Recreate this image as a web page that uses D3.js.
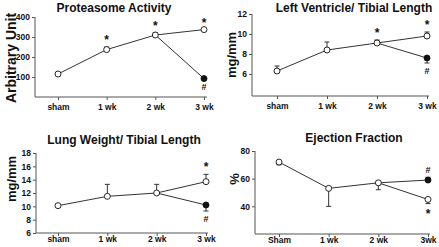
<!DOCTYPE html>
<html>
<head>
<meta charset="utf-8">
<script src="https://cdn.jsdelivr.net/npm/d3@7"></script>
<style>
  body { margin: 0; background: #fff; }
  svg { font-family: "Liberation Sans", Arial, sans-serif; font-weight: bold; }
</style>
</head>
<body>
<div id="chart"></div>
<script>
// ---- data ----
const weeks = ['sham', '1 wk', '2 wk', '3 wk'];
const weeksEF = ['Sham', '1 wk', '2 wk', '3wk'];

// Proteasome Activity
const protOpen = [115, 237, 310, 337];
const protOpenErr = [115, 250, 322, 337];
const protFilled = 92;
const protFilledErr = 92;
const protStars = [1, 2, 3];

// Left Ventricle / Tibial Length
const lvOpen = [6.3, 8.4, 9.1, 9.8];
const lvOpenErr = [6.8, 9.2, 9.4, 10.2];
const lvFilled = 7.6;
const lvFilledErr = 7.1;
const lvStars = [2, 3];

// Lung Weight / Tibial Length
const lungOpen = [10.1, 11.5, 12.0, 13.7];
const lungOpenErr = [10.1, 13.3, 13.3, 14.8];
const lungFilled = 10.2;
const lungFilledErr = 9.3;
const lungStars = [3];

// Ejection Fraction
const efOpen = [72, 53, 57, 45];
const efOpenErr = [70, 40, 52, 42];
const efFilled = 59;
const efFilledErr = 61;
const efStars = [3];

const panels = [
  { title: 'Proteasome Activity', ylabel: 'Arbitrary Unit', cats: weeks,
    open: protOpen, openErr: protOpenErr, filled: protFilled, filledErr: protFilledErr,
    stars: protStars, domain: [0, 400], ticks: [100, 200, 300, 400],
    left: 35, right: 207, top: 17, bottom: 97, xr: [58, 204], xlabY: 7,
    titleX: 114, titleY: 12, ylabX: 16, ylabY: 58, ylabSize: 14,
    starBelow: false, hashBelow: true },
  { title: 'Left Ventricle/ Tibial Length', ylabel: 'mg/mm', cats: weeks,
    open: lvOpen, openErr: lvOpenErr, filled: lvFilled, filledErr: lvFilledErr,
    stars: lvStars, domain: [3.8, 12], ticks: [6, 8, 10, 12],
    left: 252, right: 429, top: 14, bottom: 96, xr: [277, 427], xlabY: 7,
    titleX: 354, titleY: 12, ylabX: 236, ylabY: 55, ylabSize: 13,
    starBelow: false, hashBelow: true },
  { title: 'Lung Weight/ Tibial Length', ylabel: 'mg/mm', cats: weeks,
    open: lungOpen, openErr: lungOpenErr, filled: lungFilled, filledErr: lungFilledErr,
    stars: lungStars, domain: [6, 18], ticks: [6, 8, 10, 12, 14, 16, 18],
    left: 36, right: 208, top: 153, bottom: 233, xr: [58, 206], xlabY: 3,
    titleX: 124, titleY: 144, ylabX: 16, ylabY: 179, ylabSize: 13,
    starBelow: false, hashBelow: true },
  { title: 'Ejection Fraction', ylabel: '%', cats: weeksEF,
    open: efOpen, openErr: efOpenErr, filled: efFilled, filledErr: efFilledErr,
    stars: efStars, domain: [20, 80], ticks: [40, 60, 80],
    left: 255, right: 430, top: 151, bottom: 234, xr: [279, 428], xlabY: 3,
    titleX: 354, titleY: 142, ylabX: 239, ylabY: 179, ylabSize: 13,
    starBelow: true, hashBelow: false }
];

const svg = d3.select('#chart').append('svg')
  .attr('width', 439).attr('height', 247);

const ink = '#111';
const lineCol = '#333';

function drawPanel(p) {
  const g = svg.append('g');
  const x = d3.scalePoint().domain(p.cats).range(p.xr);
  const y = d3.scaleLinear().domain(p.domain).range([p.bottom, p.top]);

  // axes
  const yAxis = g.append('g').attr('transform', `translate(${p.left},0)`)
    .call(d3.axisLeft(y).tickValues(p.ticks).tickSize(3).tickSizeOuter(0));
  yAxis.select('.domain').attr('d', `M0,${p.top}V${p.bottom}`);
  const xAxis = g.append('g').attr('transform', `translate(0,${p.bottom})`)
    .call(d3.axisBottom(x).tickSize(3).tickSizeOuter(0));
  xAxis.select('.domain').attr('d', `M${p.left},0H${p.right}`);
  g.selectAll('.domain, .tick line').attr('stroke', '#555').attr('stroke-width', 1);
  g.selectAll('.tick text').attr('fill', ink).style('font-size', '8.5px').style('font-weight', 'bold');
  yAxis.selectAll('.tick text').attr('x', -5);
  xAxis.selectAll('.tick text').attr('y', p.xlabY);

  // title and y label
  g.append('text').attr('x', p.titleX).attr('y', p.titleY)
    .attr('text-anchor', 'middle').style('font-size', '12px').attr('fill', ink).text(p.title);
  g.append('text').attr('transform', `translate(${p.ylabX},${p.ylabY}) rotate(-90)`)
    .attr('text-anchor', 'middle').style('font-size', p.ylabSize + 'px').attr('fill', ink).text(p.ylabel);

  const last = p.cats[p.cats.length - 1];
  const prev = p.cats[p.cats.length - 2];

  // error bars (one-sided)
  const errs = p.open.map((v, i) => ({ c: p.cats[i], v, e: p.openErr[i] }))
    .concat([{ c: last, v: p.filled, e: p.filledErr }]);
  errs.filter(d => d.e !== d.v).forEach(d => {
    const cx = x(d.c);
    g.append('line').attr('x1', cx).attr('x2', cx).attr('y1', y(d.v)).attr('y2', y(d.e))
      .attr('stroke', lineCol).attr('stroke-width', 1);
    g.append('line').attr('x1', cx - 2.5).attr('x2', cx + 2.5).attr('y1', y(d.e)).attr('y2', y(d.e))
      .attr('stroke', lineCol).attr('stroke-width', 1);
  });

  // lines
  const line = d3.line().x(d => x(d[0])).y(d => y(d[1]));
  g.append('path').attr('d', line(p.cats.map((c, i) => [c, p.open[i]])))
    .attr('fill', 'none').attr('stroke', lineCol).attr('stroke-width', 1);
  g.append('path').attr('d', line([[prev, p.open[p.open.length - 2]], [last, p.filled]]))
    .attr('fill', 'none').attr('stroke', lineCol).attr('stroke-width', 1);

  // markers
  g.selectAll('circle.open').data(p.open).enter().append('circle')
    .attr('cx', (d, i) => x(p.cats[i])).attr('cy', d => y(d)).attr('r', 3)
    .attr('fill', '#fff').attr('stroke', ink).attr('stroke-width', 0.9);
  g.append('circle').attr('cx', x(last)).attr('cy', y(p.filled)).attr('r', 3)
    .attr('fill', ink).attr('stroke', ink).attr('stroke-width', 0.9);

  // significance marks
  p.stars.forEach(i => {
    const cx = x(p.cats[i]);
    const top = Math.max(p.open[i], p.openErr[i]);
    const bot = Math.min(p.open[i], p.openErr[i]);
    g.append('text').attr('x', cx)
      .attr('y', p.starBelow ? y(bot) + 14 : y(top) - 3)
      .attr('text-anchor', 'middle').style('font-size', '12px').attr('fill', ink).text('*');
  });
  const fTop = Math.max(p.filled, p.filledErr);
  const fBot = Math.min(p.filled, p.filledErr);
  g.append('text').attr('x', x(last))
    .attr('y', p.hashBelow ? y(fBot) + 11 : y(fTop) - 4)
    .attr('text-anchor', 'middle').style('font-size', '9px').attr('fill', ink).text('#');
}

panels.forEach(drawPanel);
</script>
</body>
</html>
